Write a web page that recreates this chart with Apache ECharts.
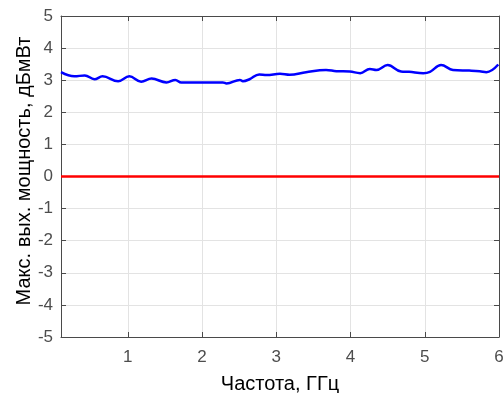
<!DOCTYPE html>
<html><head><meta charset="utf-8">
<script src="https://cdn.jsdelivr.net/npm/echarts@6/dist/echarts.min.js"></script>
<style>html,body{margin:0;padding:0;background:#fff}#c{width:504px;height:393px}</style>
</head><body><div id="c"></div>
<script>
const freq = [0.1,0.28,0.42,0.55,0.66,0.87,1.02,1.18,1.32,1.52,1.64,1.72,2.28,2.33,2.51,2.55,2.64,2.77,2.87,3.05,3.18,3.40,3.67,3.81,3.99,4.13,4.26,4.35,4.50,4.68,4.79,4.98,5.07,5.22,5.38,5.60,5.74,5.83,5.99];
const maxPower = [3.25,3.12,3.15,3.03,3.12,2.97,3.12,2.95,3.05,2.93,3.01,2.93,2.93,2.90,3.01,2.97,3.03,3.18,3.16,3.20,3.17,3.25,3.32,3.28,3.27,3.22,3.35,3.32,3.47,3.27,3.26,3.22,3.26,3.47,3.32,3.30,3.28,3.25,3.49];
const refFreq = [0.1, 6];
const refLevel = [0, 0];
const xTicks = [1,2,3,4,5,6];
const xName = 'Частота, ГГц';
const yName = 'Макс. вых. мощность, дБмВт';

const axisColor = '#4a4a4a';
const labelColor = '#4d4d4d';
const gridColor = '#e3e3e3';
const font = 'Liberation Sans, Arial, sans-serif';

const chart = echarts.init(document.getElementById('c'));
chart.setOption({
  animation: false,
  grid: {left: 61, right: 5, top: 16, bottom: 56, containLabel: false, outerBoundsMode: 'none'},
  xAxis: [{
    type: 'value', min: 0.1, max: 6,
    name: xName, nameLocation: 'middle', nameGap: 37, nameMoveOverlap: false,
    nameTextStyle: {color: '#000', fontSize: 20, fontFamily: font},
    axisLine: {onZero: false, lineStyle: {color: axisColor, width: 1}},
    axisTick: {inside: true, length: 5, customValues: xTicks, lineStyle: {color: axisColor}},
    axisLabel: {customValues: xTicks, color: labelColor, fontSize: 17, fontFamily: font, margin: 12},
    splitLine: {show: true, lineStyle: {color: gridColor, width: 1}}
  }, {
    type: 'value', min: 0.1, max: 6, position: 'top',
    axisLine: {onZero: false, lineStyle: {color: axisColor, width: 1}},
    axisTick: {inside: true, length: 5, customValues: xTicks, lineStyle: {color: axisColor}},
    axisLabel: {show: false}, splitLine: {show: false}
  }],
  yAxis: [{
    type: 'value', min: -5, max: 5, interval: 1,
    name: yName, nameLocation: 'middle', nameGap: 27, nameMoveOverlap: false,
    nameTextStyle: {color: '#000', fontSize: 20, fontFamily: font, padding: [0, 0, 0, 11]},
    axisLine: {show: true, onZero: false, lineStyle: {color: axisColor, width: 1}},
    axisTick: {show: true, inside: true, length: 5, lineStyle: {color: axisColor}},
    axisLabel: {color: labelColor, fontSize: 17, fontFamily: font, margin: 8},
    splitLine: {show: true, lineStyle: {color: gridColor, width: 1}}
  }, {
    type: 'value', min: -5, max: 5, interval: 1, position: 'right',
    axisLine: {show: true, onZero: false, lineStyle: {color: axisColor, width: 1}},
    axisTick: {show: true, inside: true, length: 5, lineStyle: {color: axisColor}},
    axisLabel: {show: false}, splitLine: {show: false}
  }],
  series: [{
    type: 'line', data: freq.map((f, i) => [f, maxPower[i]]),
    smooth: 0.4, symbol: 'none',
    lineStyle: {color: '#0000ff', width: 2.5}
  }, {
    type: 'line', data: refFreq.map((f, i) => [f, refLevel[i]]),
    symbol: 'none',
    lineStyle: {color: '#ff0000', width: 2.5}
  }]
});
</script></body></html>
